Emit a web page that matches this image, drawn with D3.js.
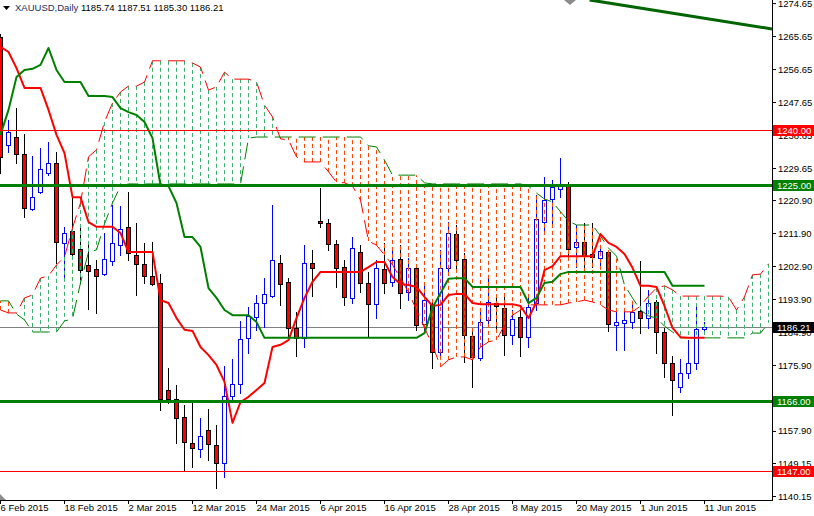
<!DOCTYPE html>
<html><head><meta charset="utf-8">
<script src="https://cdn.jsdelivr.net/npm/d3@7"></script>
<style>
body{margin:0;background:#fff}
svg{display:block}
text{font-family:"Liberation Sans",Arial,sans-serif}
</style>
</head><body>
<svg id="chart" width="814" height="516"></svg>
<script>
// ---------- DATA ----------
const titleSymbol = "XAUUSD,Daily";
const titleValues = "1185.74 1187.51 1185.30 1186.21";

const tickBars  = [0, 8, 16, 24, 32, 40, 48, 56, 64, 72, 80, 88];
const tickDates = ["6 Feb 2015","18 Feb 2015","2 Mar 2015","12 Mar 2015","24 Mar 2015","6 Apr 2015",
                   "16 Apr 2015","28 Apr 2015","8 May 2015","20 May 2015","1 Jun 2015","11 Jun 2015"];

const priceTicks = [1274.65,1265.65,1256.65,1247.65,1238.65,1229.65,1220.90,1211.90,1202.90,
                    1193.90,1184.90,1175.90,1166.90,1157.90,1149.15,1140.15];

const open = [1265.4,1235.9,1238.0,1233.5,1218.5,1223.1,1228.3,1231.0,1209.2,1212.5,
 1207.6,1203.2,1202.1,1200.7,1204.3,1208.6,1213.6,1205.9,1203.5,1200.2,
 1198.3,1169.1,1166.6,1161.7,1154.6,1153.0,1158.2,1154.1,1149.2,1167.4,
 1170.7,1183.3,1189.0,1192.8,1194.7,1203.7,1198.6,1186.0,1183.3,1203.7,
 1215.2,1214.6,1208.9,1202.6,1194.2,1206.7,1198.3,1192.5,1202.1,1198.6,
 1204.8,1195.8,1202.4,1187.1,1192.5,1179.5,1202.4,1211.6,1204.8,1183.8,
 1177.8,1188.2,1192.8,1191.5,1184.1,1189.0,1183.5,1192.8,1214.9,1221.2,
 1223.9,1225.3,1208.1,1209.5,1206.2,1205.1,1206.7,1186.8,1187.4,1187.6,
 1190.6,1188.7,1193.1,1184.9,1176.4,1169.9,1173.7,1176.4,1185.74];
const high = [1266.2,1242.8,1246.0,1238.9,1232.9,1235.1,1236.8,1234.0,1213.6,1221.7,
 1214.1,1209.7,1204.6,1211.9,1219.6,1219.3,1223.1,1214.6,1209.2,1209.5,
 1200.7,1175.1,1170.4,1165.0,1166.4,1161.4,1163.9,1159.5,1175.6,1177.5,
 1187.9,1191.7,1195.0,1199.6,1219.6,1205.9,1199.6,1190.4,1208.6,1207.3,
 1224.2,1215.7,1210.0,1204.6,1210.8,1208.6,1201.3,1204.6,1209.2,1207.3,
 1208.6,1205.1,1202.6,1198.0,1193.1,1207.3,1214.9,1214.1,1206.5,1185.5,
 1190.4,1199.6,1194.5,1195.6,1190.9,1191.7,1194.5,1222.3,1227.2,1226.4,
 1232.4,1225.8,1214.1,1214.6,1214.6,1208.6,1207.3,1190.4,1191.5,1192.5,
 1204.3,1196.4,1193.6,1186.0,1178.4,1177.5,1182.7,1192.3,1187.51];
const low = [1228.3,1234.0,1231.0,1216.3,1218.2,1222.8,1227.7,1203.7,1199.1,1205.6,
 1198.3,1191.2,1190.1,1200.5,1203.2,1205.9,1204.6,1195.0,1198.3,1197.7,
 1163.6,1165.5,1154.6,1147.0,1148.1,1150.8,1150.0,1142.3,1145.3,1165.8,
 1168.3,1179.2,1185.5,1186.3,1194.5,1192.3,1182.7,1178.4,1180.8,1194.7,
 1213.6,1207.3,1197.2,1192.3,1192.8,1195.8,1183.5,1188.7,1195.6,1197.5,
 1191.5,1193.6,1185.5,1185.5,1175.1,1178.4,1200.5,1202.4,1176.7,1169.9,
 1177.3,1187.4,1185.5,1178.6,1181.6,1178.4,1180.8,1190.9,1212.2,1213.6,
 1221.7,1205.9,1202.6,1202.6,1202.6,1203.2,1185.2,1180.0,1180.0,1186.0,
 1184.6,1186.0,1179.2,1172.6,1162.3,1168.5,1172.4,1174.8,1185.30];
const close = [1232.7,1239.5,1233.5,1218.7,1221.7,1229.4,1231.0,1209.5,1211.9,1206.2,
 1201.8,1201.6,1200.2,1204.8,1209.2,1213.0,1206.5,1203.5,1200.2,1198.0,
 1166.6,1166.6,1161.4,1154.9,1153.3,1156.5,1154.3,1149.2,1167.4,1170.7,
 1183.0,1189.3,1192.8,1195.3,1204.6,1198.0,1186.0,1183.3,1203.7,1202.4,
 1214.6,1208.9,1202.4,1194.5,1207.8,1198.3,1192.5,1202.4,1198.3,1204.6,
 1195.6,1202.4,1186.8,1193.6,1179.5,1202.4,1211.9,1204.6,1184.1,1178.1,
 1187.6,1193.1,1192.0,1184.1,1188.5,1183.5,1191.7,1215.7,1220.9,1224.5,
 1225.3,1207.6,1209.5,1205.6,1205.4,1207.0,1187.1,1187.6,1188.2,1190.4,
 1188.7,1192.8,1184.9,1176.4,1171.8,1173.7,1176.4,1185.7,1186.21];

const tenkan = [1262.7,1261.3,1256.9,1251.5,1251.5,1251.5,1245.5,1238.7,1233.7,1221.7,
 1221.7,1214.9,1213.6,1213.6,1213.6,1211.9,1206.7,1206.7,1206.7,1206.7,
 1193.6,1192.8,1188.7,1185.5,1185.2,1180.8,1178.6,1175.9,1171.3,1160.1,
 1165.8,1167.2,1169.1,1171.0,1180.8,1181.4,1182.7,1188.7,1194.2,1198.6,
 1201.3,1201.3,1201.3,1201.3,1201.3,1201.3,1202.6,1204.0,1204.0,1199.9,
 1198.0,1197.7,1197.2,1194.5,1192.0,1192.3,1195.0,1195.3,1195.3,1192.8,
 1192.5,1192.5,1192.5,1192.5,1192.5,1192.0,1188.7,1193.1,1201.8,1202.9,
 1205.6,1205.6,1205.6,1205.6,1205.6,1211.6,1209.2,1208.1,1206.2,1202.4,
 1197.5,1197.5,1197.2,1192.0,1186.0,1183.5,1183.3,1183.3,1183.3];

const kijun = [1238.7,1245.5,1254.5,1256.4,1256.7,1257.8,1262.4,1256.4,1253.1,1253.1,
 1253.1,1249.3,1249.3,1249.3,1249.0,1246.0,1244.9,1244.1,1242.2,1237.8,
 1225.0,1224.7,1220.1,1210.8,1210.8,1208.1,1196.9,1194.2,1190.9,1189.5,
 1189.5,1189.5,1187.6,1183.3,1183.3,1183.3,1183.3,1183.3,1183.3,1183.3,
 1183.3,1183.3,1183.3,1183.3,1183.3,1183.3,1183.3,1183.3,1183.3,1183.3,
 1183.3,1183.3,1183.3,1184.6,1191.5,1195.5,1199.4,1199.6,1199.6,1197.2,
 1197.2,1197.2,1197.2,1197.2,1197.2,1197.2,1192.8,1194.2,1198.3,1198.6,
 1200.7,1201.3,1201.3,1201.3,1201.3,1201.3,1201.3,1201.3,1201.3,1201.3,
 1201.3,1201.3,1201.3,1201.3,1197.5,1197.5,1197.5,1197.5,1197.5];

// Senkou spans as displayed (already shifted forward), one value per bar slot
const spanA = [1190.9,1190.1,1190.1,1194.2,1195.0,1199.6,1200.2,1203.2,1205.4,1213.3,
 1220.1,1232.7,1234.6,1242.2,1247.4,1250.4,1252.0,1252.0,1253.1,1258.9,
 1258.9,1258.9,1258.9,1258.9,1258.3,1257.2,1250.9,1251.8,1255.8,1253.9,
 1253.9,1253.9,1253.1,1246.8,1243.6,1237.6,1237.3,1232.7,1231.3,1231.3,
 1231.3,1228.6,1225.8,1225.6,1224.7,1220.9,1209.7,1208.6,1205.9,1203.2,
 1199.6,1195.8,1190.9,1186.0,1181.4,1175.4,1177.3,1178.1,1178.1,1177.3,
 1180.8,1182.2,1182.7,1186.8,1189.5,1190.9,1192.3,1192.3,1192.3,1192.3,
 1192.3,1192.8,1193.1,1193.6,1193.1,1192.3,1190.9,1190.4,1190.4,1190.4,
 1192.0,1194.7,1196.9,1197.5,1196.4,1194.7,1194.7,1194.7,1194.7,1194.7,
 1194.7,1194.5,1190.9,1194.5,1200.5,1200.7,1203.5];
const spanB = [1193.4,1193.4,1189.8,1188.2,1184.9,1184.9,1184.9,1184.9,1187.9,1188.5,
 1198.3,1206.7,1207.3,1214.4,1220.1,1224.7,1225.3,1225.3,1225.3,1225.3,
 1225.3,1225.3,1225.3,1225.3,1225.3,1225.3,1225.3,1225.3,1225.3,1225.3,
 1225.3,1237.8,1238.1,1238.1,1238.1,1238.1,1238.1,1238.1,1238.1,1238.1,
 1238.1,1238.1,1238.1,1238.1,1238.1,1238.1,1235.7,1235.4,1231.8,1227.7,
 1227.7,1227.7,1227.7,1225.6,1225.3,1225.3,1225.3,1225.3,1225.3,1225.3,
 1225.3,1225.3,1225.3,1225.3,1225.3,1225.3,1224.7,1222.8,1221.2,1220.4,
 1217.7,1215.2,1214.1,1214.1,1214.1,1211.1,1207.8,1205.6,1197.7,1194.2,
 1190.9,1189.3,1188.7,1186.5,1184.9,1183.3,1183.3,1183.3,1183.3,1183.3,
 1183.3,1183.3,1183.3,1183.3,1184.6,1184.6,1187.4];

const levelPrices = [1240.00, 1225.00, 1166.00, 1147.00];
const levelKinds  = ["resistance", "support", "support", "resistance"];
const lastPrice = 1186.21;
// trend line anchor points: [bar slot, price]
const trendBars   = [73.7, 96.5];
const trendPrices = [1275.5, 1267.6];

// ---------- STYLE ----------
const W = 814, H = 516, plotR = 772, plotB = 500;
const C = {
  bear: "#ff0000", bull: "#0000ff", tenkan: "#ff0000", kijun: "#008000",
  spanA: "#ff0000", spanB: "#008000", cloudUp: "#3cb371", cloudDn: "#ff4500",
  resistance: "#ff0000", support: "#008000", last: "#808080", trend: "#006400"
};
const levelWidth = {resistance: 1, support: 3};

const svg = d3.select("#chart");
svg.append("rect").attr("width", W).attr("height", H).attr("fill", "#fff");

const x = d3.scaleLinear().domain([0, 96]).range([0, 768]);
const y = d3.scaleLinear().domain([1140.15, 1274.65]).range([496, 3.08]);
const cx = i => Math.round(x(i)) + 0.5;

svg.append("clipPath").attr("id", "clip").append("rect")
  .attr("x", 0).attr("y", 0).attr("width", plotR).attr("height", plotB);
const plot = svg.append("g").attr("clip-path", "url(#clip)");

// current price line (background)
plot.append("line").attr("x1", 0).attr("x2", plotR)
  .attr("y1", Math.round(y(lastPrice)) + 0.5).attr("y2", Math.round(y(lastPrice)) + 0.5)
  .attr("stroke", C.last).attr("stroke-width", 1);

// candles
const bars = d3.range(open.length);
const cg = plot.append("g");
bars.forEach(i => {
  const up = close[i] >= open[i];
  const col = up ? C.bull : "#000";
  const px = cx(i);
  cg.append("line").attr("x1", px).attr("x2", px)
    .attr("y1", Math.round(y(high[i]))).attr("y2", Math.round(y(low[i])) + 1)
    .attr("stroke", col).attr("stroke-width", 1);
  const t = Math.round(y(Math.max(open[i], close[i])));
  const b = Math.round(y(Math.min(open[i], close[i])));
  cg.append("rect").attr("x", px - 2).attr("width", 4)
    .attr("y", t + 0.5).attr("height", Math.max(b - t, 0))
    .attr("fill", up ? "#fff" : C.bear).attr("stroke", col).attr("stroke-width", 1);
});

// cloud hatches
const hg = plot.append("g");
spanA.forEach((a, i) => {
  const b = spanB[i];
  const px = cx(i);
  hg.append("line").attr("x1", px).attr("x2", px)
    .attr("y1", y(a)).attr("y2", y(b))
    .attr("stroke", a >= b ? C.cloudUp : C.cloudDn)
    .attr("stroke-width", 1).attr("stroke-dasharray", "4,3");
});

// span lines
const ln = d3.line().x((d, i) => cx(i)).y(d => y(d));
plot.append("path").attr("d", ln(spanA)).attr("fill", "none")
  .attr("stroke", C.spanA).attr("stroke-width", 1).attr("stroke-dasharray", "17,7");
plot.append("path").attr("d", ln(spanB)).attr("fill", "none")
  .attr("stroke", C.spanB).attr("stroke-width", 1).attr("stroke-dasharray", "17,7");

// tenkan / kijun
plot.append("path").attr("d", ln(tenkan)).attr("fill", "none")
  .attr("stroke", C.tenkan).attr("stroke-width", 2).attr("stroke-linejoin", "round");
plot.append("path").attr("d", ln(kijun)).attr("fill", "none")
  .attr("stroke", C.kijun).attr("stroke-width", 2).attr("stroke-linejoin", "round");

// horizontal levels
levelPrices.forEach((p, k) => {
  const w = levelWidth[levelKinds[k]];
  const yy = Math.round(y(p)) + (w % 2 ? 0.5 : 0);
  plot.append("line").attr("x1", 0).attr("x2", plotR).attr("y1", yy).attr("y2", yy)
    .attr("stroke", C[levelKinds[k]]).attr("stroke-width", w);
});

// trend line
plot.append("line")
  .attr("x1", x(trendBars[0])).attr("y1", y(trendPrices[0]))
  .attr("x2", x(trendBars[1])).attr("y2", y(trendPrices[1]))
  .attr("stroke", C.trend).attr("stroke-width", 3);

// ---------- AXES ----------
const fs = "9.5px";
const yAxis = d3.axisRight(y).tickValues(priceTicks).tickSize(4).tickSizeOuter(0)
  .tickFormat(d3.format(".2f"));
const gy = svg.append("g").attr("transform", `translate(${plotR},0)`).call(yAxis);
gy.select(".domain").remove();
gy.selectAll("text").attr("x", 6).attr("font-size", fs)
  .attr("font-family", '"Liberation Sans",Arial,sans-serif').attr("fill", "#000");
gy.selectAll("line").attr("stroke", "#000");

const xAxis = d3.axisBottom(x).tickValues(tickBars).tickSize(4).tickSizeOuter(0)
  .tickFormat((d, k) => tickDates[k]);
const gx = svg.append("g").attr("transform", `translate(0,${plotB})`).call(xAxis);
gx.select(".domain").remove();
gx.selectAll("text").attr("text-anchor", "start").attr("x", 0).attr("y", 4)
  .attr("dy", "0.71em").attr("font-size", fs)
  .attr("font-family", '"Liberation Sans",Arial,sans-serif').attr("fill", "#000");
gx.selectAll("line").attr("stroke", "#000");

// frame lines
svg.append("line").attr("x1", plotR + 0.5).attr("x2", plotR + 0.5).attr("y1", 0).attr("y2", plotB + 1)
  .attr("stroke", "#000");
svg.append("line").attr("x1", 0).attr("x2", plotR + 1).attr("y1", plotB + 0.5).attr("y2", plotB + 0.5)
  .attr("stroke", "#000");

// price labels on axis
const tags = levelPrices.map((p, k) => ({p, col: C[levelKinds[k]]}));
tags.push({p: lastPrice, col: "#000"});
tags.forEach(t => {
  const yy = Math.round(y(t.p));
  svg.append("rect").attr("x", plotR + 1).attr("y", yy - 5).attr("width", 41).attr("height", 11)
    .attr("fill", t.col);
  svg.append("text").attr("x", plotR + 5).attr("y", yy + 4).attr("font-size", fs)
    .attr("fill", "#fff").text(d3.format(".2f")(t.p));
});

// title
svg.append("path").attr("d", "M3,6 L10,6 L6.5,10 Z").attr("fill", "#000");
const tt = svg.append("text").attr("x", 15).attr("y", 11).attr("font-size", fs);
tt.append("tspan").attr("fill", "#1f2d5c").text(titleSymbol);
tt.append("tspan").attr("fill", "#000").text("  " + titleValues);

// chart-shift & scale markers
svg.append("path").attr("d", "M564,0 L576,0 L570,5 Z").attr("fill", "#8c8c8c");
svg.append("path").attr("d", "M0,494 L0,500 L6,500 Z").attr("fill", "#8c8c8c");
</script>
</body></html>
